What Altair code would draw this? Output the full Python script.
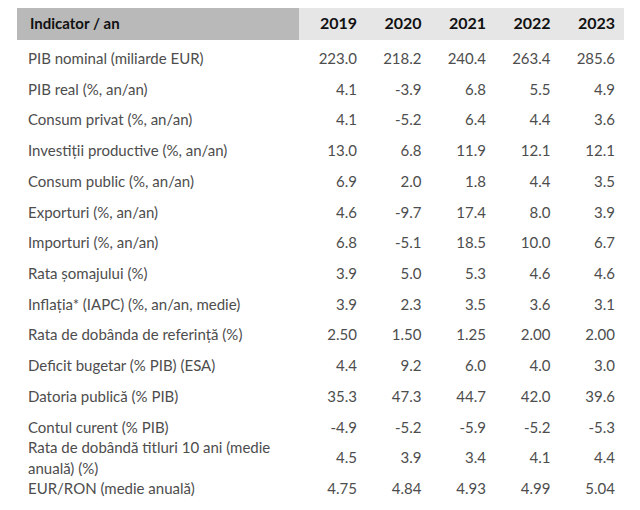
import altair as alt
import pandas as pd

years = [2019, 2020, 2021, 2022, 2023]

indicators = [
    "PIB nominal (miliarde EUR)",
    "PIB real (%, an/an)",
    "Consum privat (%, an/an)",
    "Investiții productive (%, an/an)",
    "Consum public (%, an/an)",
    "Exporturi (%, an/an)",
    "Importuri (%, an/an)",
    "Rata șomajului (%)",
    "Inflația* (IAPC) (%, an/an, medie)",
    "Rata de dobânda de referință (%)",
    "Deficit bugetar (% PIB) (ESA)",
    "Datoria publică (% PIB)",
    "Contul curent (% PIB)",
    "Rata de dobândă titluri 10 ani (medie\nanuală) (%)",
    "EUR/RON (medie anuală)",
]

v2019 = ["223.0", "4.1", "4.1", "13.0", "6.9", "4.6", "6.8", "3.9", "3.9", "2.50", "4.4", "35.3", "-4.9", "4.5", "4.75"]
v2020 = ["218.2", "-3.9", "-5.2", "6.8", "2.0", "-9.7", "-5.1", "5.0", "2.3", "1.50", "9.2", "47.3", "-5.2", "3.9", "4.84"]
v2021 = ["240.4", "6.8", "6.4", "11.9", "1.8", "17.4", "18.5", "5.3", "3.5", "1.25", "6.0", "44.7", "-5.9", "3.4", "4.93"]
v2022 = ["263.4", "5.5", "4.4", "12.1", "4.4", "8.0", "10.0", "4.6", "3.6", "2.00", "4.0", "42.0", "-5.2", "4.1", "4.99"]
v2023 = ["285.6", "4.9", "3.6", "12.1", "3.5", "3.9", "6.7", "4.6", "3.1", "2.00", "3.0", "39.6", "-5.3", "4.4", "5.04"]

header_title = "Indicator / an"

FONT = "Lato"
W, H = 624, 494

series = [v2019, v2020, v2021, v2022, v2023]
rows = []
for yi, yr in enumerate(years):
    for ri, val in enumerate(series[yi]):
        rows.append({"row": ri, "year": yr, "value": val})
values_df = pd.DataFrame(rows)
labels_df = pd.DataFrame({
    "row": list(range(len(indicators))),
    "label": indicators,
    "multi": ["\n" in s for s in indicators],
})
years_df = pd.DataFrame({"year": years, "ylabel": [str(y) for y in years]})

yscale = alt.Scale(domain=[0, len(indicators) - 1], range=[51, 481])
xscale = alt.Scale(domain=[years[0], years[-1]], range=[349, 607])

hdr_dark = alt.Chart(pd.DataFrame({"a": [0]})).mark_rect(color="#b9b9b9").encode(
    x=alt.value(9), x2=alt.value(291), y=alt.value(0), y2=alt.value(32)
)
hdr_light = alt.Chart(pd.DataFrame({"a": [0]})).mark_rect(color="#e6e6e6").encode(
    x=alt.value(291), x2=alt.value(616), y=alt.value(0), y2=alt.value(32)
)
hdr_title = alt.Chart(pd.DataFrame({"t": [header_title]})).mark_text(
    font=FONT, fontSize=15, fontWeight="bold", color="#111111", align="left", baseline="middle"
).encode(x=alt.value(22), y=alt.value(16), text="t:N")

hdr_years = alt.Chart(years_df).mark_text(
    font=FONT, fontSize=16, fontWeight="bold", color="#111111", align="right", baseline="middle"
).encode(
    x=alt.X("year:Q", scale=xscale, axis=None),
    y=alt.value(16),
    text="ylabel:N",
)

base_labels = alt.Chart(labels_df)
labels_single = base_labels.transform_filter("!datum.multi").mark_text(
    font=FONT, fontSize=15, color="#4d4d4d", align="left", baseline="middle"
).encode(
    x=alt.value(20),
    y=alt.Y("row:Q", scale=yscale, axis=None),
    text="label:N",
)
labels_multi = base_labels.transform_filter("datum.multi").mark_text(
    font=FONT, fontSize=15, color="#4d4d4d", align="left", baseline="middle",
    lineBreak="\n", lineHeight=21, dy=-10
).encode(
    x=alt.value(20),
    y=alt.Y("row:Q", scale=yscale, axis=None),
    text="label:N",
)

vals = alt.Chart(values_df).mark_text(
    font=FONT, fontSize=15, color="#4d4d4d", align="right", baseline="middle"
).encode(
    x=alt.X("year:Q", scale=xscale, axis=None),
    y=alt.Y("row:Q", scale=yscale, axis=None),
    text="value:N",
)

chart = alt.layer(hdr_dark, hdr_light, hdr_title, hdr_years, labels_single, labels_multi, vals).properties(
    width=W, height=H, padding=0, autosize=alt.AutoSizeParams(type="none"), background="white"
).configure_view(stroke=None)

chart.save("out.html", embed_options={"renderer": "svg", "actions": False})
